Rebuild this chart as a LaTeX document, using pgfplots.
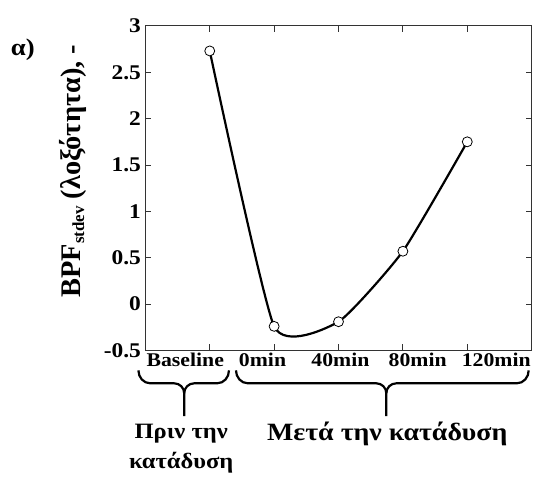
\documentclass[border=0pt]{standalone}
\usepackage{fontspec}
\setmainfont{Liberation Serif}[FakeStretch=1.12]
\newfontfamily\labelfont{Liberation Serif}
\usepackage{pgfplots}
\pgfplotsset{compat=1.18}

\newcommand\xtickfont{\fontsize{19.5}{22}\selectfont\bfseries}
\newcommand\ytickfont{\fontsize{21}{24}\selectfont\bfseries}

\begin{document}
\begin{tikzpicture}
\begin{axis}[
  scale only axis,width=388pt,height=326pt,
  xmin=0,xmax=6,ymin=-0.5,ymax=3,
  xtick={1,2,3,4,5},xticklabels={},
  ytick={-0.5,0,0.5,1,1.5,2,2.5,3},
  tick pos=both,tick align=inside,
  major tick length=6pt,
  tick style={black!80,line width=0.8pt},
  axis line style={black!80,line width=1pt},
  /pgf/number format/assume math mode=true,
  yticklabel style={font=\ytickfont,xshift=-1pt},
  extra x ticks={0.62,1.82,3.03,4.23,5.45},
  extra x tick labels={Baseline,0min,40min,80min,120min},
  extra x tick style={major tick length=0pt,
    xticklabel style={font=\xtickfont,yshift=1pt}},
  clip=false,
]
\addplot[black,line width=2.2pt,smooth,tension=0.3,
  mark=*,mark size=5pt,
  mark options={fill=white,draw=black,line width=0.8pt}]
  coordinates {(1,2.73) (2,-0.24) (3,-0.19) (4,0.57) (5,1.75)};
\end{axis}
\begin{scope}[shift={(-146pt,352pt)},x=1pt,y=-1pt]
  \path (0,0) rectangle (534,479);
  \node at (23,50) {\fontsize{24}{26}\selectfont\bfseries α)};
  \node[rotate=90] at (73,172)
    {\labelfont\bfseries\fontsize{28.5}{30}\selectfont BPF\raisebox{-4pt}{\fontsize{17}{18}\selectfont stdev} (λοξότητα), -};
  \draw[line width=2.2pt]
    (139,372) to[out=-90,in=180] (151,385) -- (175,385)
    to[out=0,in=90] (185,395) -- (185,418);
  \draw[line width=2.2pt]
    (185,395) to[out=90,in=180] (195,385) -- (218,385)
    to[out=0,in=-90] (230,372);
  \draw[line width=2.2pt]
    (237,372) to[out=-90,in=180] (249,385) -- (378,385)
    to[out=0,in=90] (388,395) -- (388,418);
  \draw[line width=2.2pt]
    (388,395) to[out=90,in=180] (398,385) -- (519,385)
    to[out=0,in=-90] (531,372);
  \node[font=\fontsize{22}{24}\selectfont\bfseries] at (182,436) {Πριν την};
  \node[font=\fontsize{22}{24}\selectfont\bfseries] at (182,465) {κατάδυση};
  \node[font=\fontsize{25}{28}\selectfont\bfseries] at (389,436) {Μετά την κατάδυση};
\end{scope}
\end{tikzpicture}
\end{document}
